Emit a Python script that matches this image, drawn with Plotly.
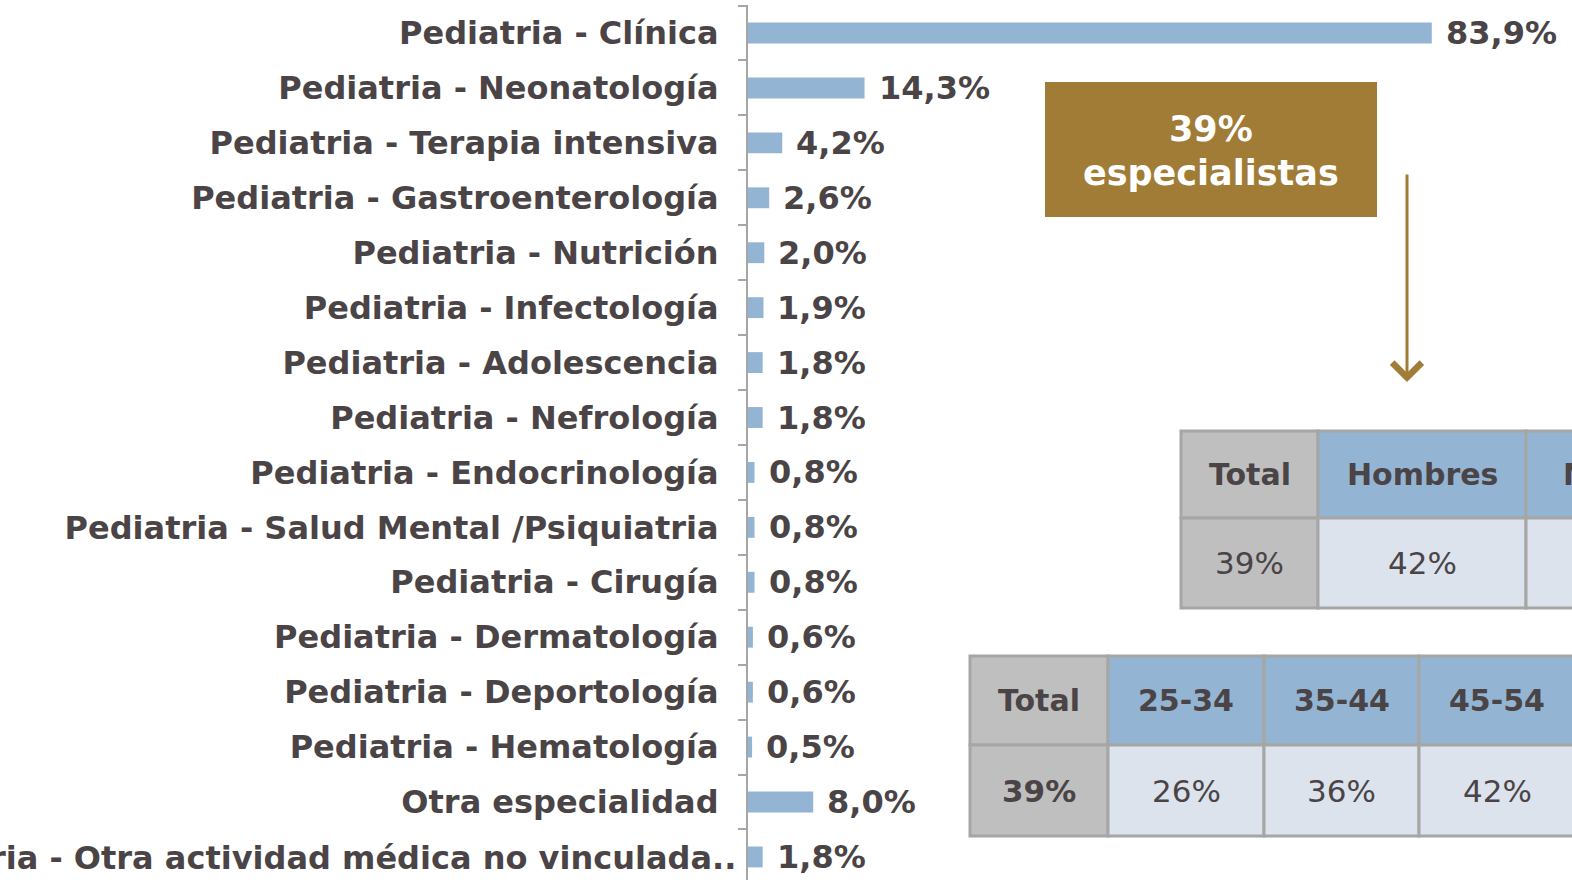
import plotly.graph_objects as go

# ---------------- data ----------------
categories = [
    "Pediatria - Clínica",
    "Pediatria - Neonatología",
    "Pediatria - Terapia intensiva",
    "Pediatria - Gastroenterología",
    "Pediatria - Nutrición",
    "Pediatria - Infectología",
    "Pediatria - Adolescencia",
    "Pediatria - Nefrología",
    "Pediatria - Endocrinología",
    "Pediatria - Salud Mental /Psiquiatria",
    "Pediatria - Cirugía",
    "Pediatria - Dermatología",
    "Pediatria - Deportología",
    "Pediatria - Hematología",
    "Otra especialidad",
    "Pediatria - Otra actividad médica no vinculada..",
]
values = [83.9, 14.3, 4.2, 2.6, 2.0, 1.9, 1.8, 1.8, 0.8, 0.8, 0.8, 0.6, 0.6, 0.5, 8.0, 1.8]
value_labels = ["83,9%", "14,3%", "4,2%", "2,6%", "2,0%", "1,9%", "1,8%", "1,8%",
                "0,8%", "0,8%", "0,8%", "0,6%", "0,6%", "0,5%", "8,0%", "1,8%"]

callout_lines = ["39%", "especialistas"]

sex_headers = ["Total", "Hombres", "Mujeres"]
sex_values = ["39%", "42%", ""]          # third value not visible in the reference

age_headers = ["Total", "25-34", "35-44", "45-54"]
age_values = ["39%", "26%", "36%", "42%"]

# ---------------- style ----------------
W, H = 1572, 880
TXT = "#4a4446"
BAR = "#93b4d3"
GOLD = "#a07c37"
GRAY_CELL = "#bfbfbf"
LIGHT_CELL = "#dce3ed"
BORDER = "#a6a6a6"
LBL_FONT = "DejaVu Sans"

def px(x):
    return x / W

def py(y):
    return 1 - y / H

fig = go.Figure()
fig.add_trace(go.Bar(
    x=values, y=categories, orientation="h",
    marker=dict(color=BAR, line=dict(width=0)),
    hoverinfo="skip",
))

ticktext = categories[:-1] + [""]

AXIS_X = 748
fig.update_layout(
    width=W, height=H,
    template="none",
    paper_bgcolor="white", plot_bgcolor="white",
    margin=dict(l=0, r=0, t=0, b=0),
    showlegend=False,
    bargap=0.62,
    xaxis=dict(domain=[AXIS_X / W, 1], range=[0, (W - AXIS_X) / 8.15], visible=False,
               showgrid=False, zeroline=False, automargin=False),
    yaxis=dict(domain=[0, 875 / H], type="category",
               range=[15.42, -0.51],
               tickmode="array", tickvals=categories, ticktext=ticktext,
               tickson="boundaries", ticks="outside", ticklen=8,
               tickcolor=BORDER, tickwidth=1.5,
               showline=True, linecolor=BORDER, linewidth=2,
               showgrid=False, zeroline=False, automargin=False,
               ticklabelstandoff=21,
               tickfont=dict(family=LBL_FONT, size=32, color=TXT, weight="bold")),
)

annotations = []
# value labels
for cat, v, lab in zip(categories, values, value_labels):
    annotations.append(dict(x=v, y=cat, xref="x", yref="y", text=lab,
                            showarrow=False, xanchor="left", yanchor="middle",
                            xshift=12,
                            font=dict(family=LBL_FONT, size=32, color=TXT, weight="bold")))
# last category label (slightly different position in reference)
annotations.append(dict(x=px(738), y=categories[-1], xref="paper", yref="y",
                        text=categories[-1], showarrow=False, xanchor="right",
                        yanchor="middle", yshift=-1,
                        font=dict(family=LBL_FONT, size=32, color=TXT, weight="bold")))

shapes = []
# gold callout box
shapes.append(dict(type="rect", xref="paper", yref="paper",
                   x0=px(1045), x1=px(1377), y0=py(217), y1=py(82),
                   fillcolor=GOLD, line=dict(width=0)))
for line_txt, yc in zip(callout_lines, [129, 173]):
    annotations.append(dict(x=px(1211), y=py(yc), xref="paper", yref="paper",
                            text=line_txt, showarrow=False, xanchor="center",
                            yanchor="middle",
                            font=dict(family=LBL_FONT, size=35, color="white",
                                      weight="bold")))
# arrow
annotations.append(dict(x=px(1407), y=py(382), ax=0, ay=-(382 - 173),
                        xref="paper", yref="paper", axref="pixel", ayref="pixel",
                        text="", showarrow=True, arrowhead=4, arrowsize=1.9,
                        arrowwidth=3, arrowcolor=GOLD, standoff=0))


def add_table(x_edges, y_edges, headers, vals, bold_total_value):
    for i, (h, v) in enumerate(zip(headers, vals)):
        xa, xb = x_edges[i], x_edges[i + 1]
        head_fill = GRAY_CELL if i == 0 else BAR
        body_fill = GRAY_CELL if i == 0 else LIGHT_CELL
        for (ya, yb), fill, txt, wt, sz in [
            ((y_edges[0], y_edges[1]), head_fill, h, "bold", 30),
            ((y_edges[1], y_edges[2]), body_fill, v,
             "bold" if (i == 0 and bold_total_value) else "normal", 31),
        ]:
            shapes.append(dict(type="rect", xref="paper", yref="paper",
                               x0=px(xa), x1=px(xb), y0=py(yb), y1=py(ya),
                               fillcolor=fill, line=dict(color=BORDER, width=3)))
            annotations.append(dict(x=px((xa + xb) / 2), y=py((ya + yb) / 2),
                                    xref="paper", yref="paper", text=txt,
                                    showarrow=False, xanchor="center",
                                    yanchor="middle",
                                    font=dict(family=LBL_FONT, size=sz,
                                              color=TXT, weight=wt)))


add_table([1181, 1318, 1526, 1734], [431, 518, 608], sex_headers, sex_values, False)
add_table([970, 1108, 1264, 1419, 1575], [656, 745, 836], age_headers, age_values, True)

fig.update_layout(shapes=shapes, annotations=annotations)
fig.write_html("out.html",
               config={"displayModeBar": False},
               post_script="document.body.style.margin='0';document.body.style.overflow='hidden';")
